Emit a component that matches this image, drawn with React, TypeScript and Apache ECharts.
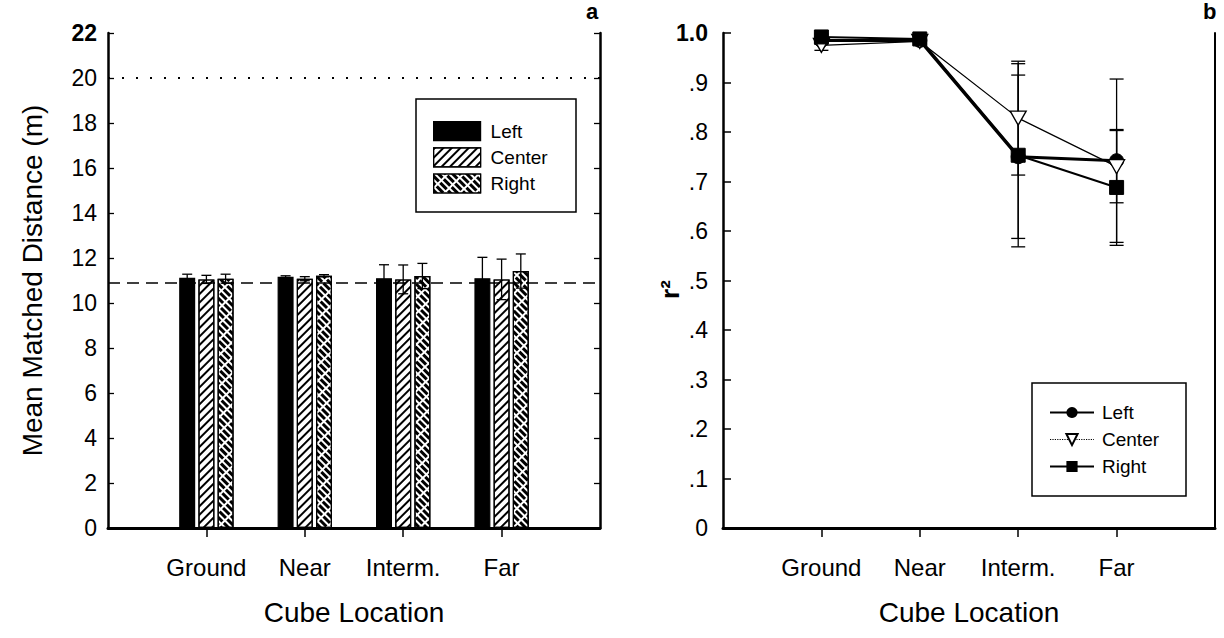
import React, { useEffect, useRef } from 'react';
import * as echarts from 'echarts';

// ---- data ----
const categories = ['Ground', 'Near', 'Interm.', 'Far'];
const seriesNames = ['Left', 'Center', 'Right'];

// panel a: mean matched distance (m)
const distLeft = [11.12, 11.17, 11.1, 11.1];
const distCenter = [11.05, 11.08, 11.05, 11.05];
const distRight = [11.08, 11.21, 11.2, 11.42];
const distErrLeft = [0.16, 0.04, 0.6, 0.93];
const distErrCenter = [0.18, 0.09, 0.64, 0.9];
const distErrRight = [0.2, 0.05, 0.56, 0.76];
const actualDistance = 10.9;
const maxDistance = 20;
const distMin = 0;
const distMax = 22;
const distStep = 2;

// panel b: r^2
const r2Left = [0.985, 0.985, 0.75, 0.742];
const r2Center = [0.975, 0.983, 0.828, 0.73];
const r2Right = [0.992, 0.988, 0.753, 0.688];
const r2ErrLeft = [0.008, 0.006, 0.165, 0.165];
const r2ErrCenter = [0.01, 0.006, 0.115, 0.073];
const r2ErrRight = [0.006, 0.006, 0.185, 0.117];
const r2Min = 0;
const r2Max = 1;
const r2Step = 0.1;

const xLabel = 'Cube Location';
const yLabelA = 'Mean Matched Distance (m)';
const yLabelB = 'r²';

const FONT = '"Liberation Sans", Arial, Helvetica, sans-serif';

const pad = (arr: number[]) => ['-', ...arr, '-'];
const xData = ['', ...categories, ''];

const BAR_W = 16;
const BAR_GAP = 0.2;
const BAR_STEP = BAR_W * (1 + BAR_GAP);

function errSeries(
  means: number[],
  errs: number[],
  xAxisIndex: number,
  yAxisIndex: number,
  offset: number,
  half: number,
  z: number
) {
  return {
    type: 'custom',
    xAxisIndex,
    yAxisIndex,
    z,
    silent: true,
    data: means.map((m, i) => [i + 1, m - errs[i], m + errs[i]]),
    renderItem: (params: any, api: any) => {
      const x = api.value(0);
      const lo = api.coord([x, api.value(1)]);
      const hi = api.coord([x, api.value(2)]);
      const cx = lo[0] + offset;
      const st = { stroke: '#000', lineWidth: 1.3 };
      return {
        type: 'group',
        children: [
          { type: 'line', shape: { x1: cx, y1: lo[1], x2: cx, y2: hi[1] }, style: st },
          { type: 'line', shape: { x1: cx - half, y1: hi[1], x2: cx + half, y2: hi[1] }, style: st },
          { type: 'line', shape: { x1: cx - half, y1: lo[1], x2: cx + half, y2: lo[1] }, style: st },
        ],
      };
    },
  };
}

export default function App() {
  const ref = useRef<HTMLDivElement>(null);

  useEffect(() => {
    if (!ref.current) return;
    const chart = echarts.init(ref.current, undefined, { renderer: 'svg' });

    const tickText = { fontFamily: FONT, fontSize: 23, color: '#000' };
    const catText = { fontFamily: FONT, fontSize: 24, color: '#000' };
    const nameText = { fontFamily: FONT, fontSize: 28, color: '#000' };

    const centerDecal = {
      symbol: 'rect',
      symbolSize: 1,
      color: '#000',
      dashArrayX: [1, 0],
      dashArrayY: [1.6, 3.4],
      rotation: -Math.PI / 4,
    };
    const rightDecal = {
      symbol: 'rect',
      symbolSize: 1,
      color: '#000',
      dashArrayX: [[9, 1.5]],
      dashArrayY: [2.4, 1.4],
      rotation: Math.PI / 4,
    };

    const gridA = { left: 108, top: 33, width: 492, height: 495 };
    const gridB = { left: 723, top: 33, width: 492, height: 495 };

    const bottomAxis = (gridIndex: number) => ({
      type: 'category',
      gridIndex,
      data: xData,
      boundaryGap: false,
      axisLine: { lineStyle: { color: '#000', width: 2 } },
      axisTick: {
        show: true,
        inside: false,
        length: 9,
        interval: (i: number) => i > 0 && i < xData.length - 1,
        lineStyle: { color: '#000', width: 1.5 },
      },
      axisLabel: { ...catText, interval: 0, margin: 27 },
      splitLine: { show: false },
      name: xLabel,
      nameLocation: 'middle',
      nameGap: 70,
      nameTextStyle: nameText,
    });
    const topAxis = (gridIndex: number) => ({
      type: 'category',
      gridIndex,
      position: 'top',
      data: xData,
      boundaryGap: false,
      axisLine: { lineStyle: { color: '#000', width: 3 } },
      axisTick: { show: false },
      axisLabel: { show: false },
      splitLine: { show: false },
    });

    const option: any = {
      animation: false,
      backgroundColor: '#fff',
      textStyle: { fontFamily: FONT },
      grid: [gridA, gridB],
      xAxis: [bottomAxis(0), topAxis(0), bottomAxis(1), topAxis(1)],
      yAxis: [
        {
          type: 'value',
          gridIndex: 0,
          min: distMin,
          max: distMax,
          interval: distStep,
          axisLine: { show: true, lineStyle: { color: '#000', width: 2.5 } },
          axisTick: { show: true, inside: true, length: 6, lineStyle: { color: '#000', width: 1.3 } },
          axisLabel: {
            ...tickText,
            margin: 11,
            formatter: (v: number) => (v === distMax ? '{b|' + v + '}' : String(v)),
            rich: { b: { ...tickText, fontWeight: 'bold' } },
          },
          splitLine: { show: false },
          name: yLabelA,
          nameLocation: 'middle',
          nameGap: 62,
          nameTextStyle: nameText,
        },
        {
          type: 'value',
          gridIndex: 0,
          position: 'right',
          min: distMin,
          max: distMax,
          interval: distStep,
          axisLine: { show: true, lineStyle: { color: '#000', width: 2.5 } },
          axisTick: { show: true, inside: true, length: 6, lineStyle: { color: '#000', width: 1.3 } },
          axisLabel: { show: false },
          splitLine: { show: false },
        },
        {
          type: 'value',
          gridIndex: 1,
          min: r2Min,
          max: r2Max,
          interval: r2Step,
          axisLine: { show: true, lineStyle: { color: '#000', width: 2.5 } },
          axisTick: { show: true, inside: true, length: 8, lineStyle: { color: '#000', width: 1.5 } },
          axisLabel: {
            ...tickText,
            margin: 15,
            formatter: (v: number) => {
              if (v === 0) return '0';
              if (Math.abs(v - 1) < 1e-9) return '{b|1.0}';
              return '.' + Math.round(v * 10);
            },
            rich: { b: { ...tickText, fontWeight: 'bold' } },
          },
          splitLine: { show: false },
          name: yLabelB,
          nameLocation: 'middle',
          nameGap: 40,
          nameMoveOverlap: false,
          nameTextStyle: { ...nameText, fontSize: 26, fontWeight: 'bold', padding: [0, 18, 0, 0] },
        },
        {
          type: 'value',
          gridIndex: 1,
          position: 'right',
          min: r2Min,
          max: r2Max,
          interval: r2Step,
          axisLine: { show: true, lineStyle: { color: '#000', width: 2 } },
          axisTick: { show: false },
          axisLabel: { show: false },
          splitLine: { show: false },
        },
      ],
      legend: [
        {
          data: seriesNames,
          orient: 'vertical',
          left: 433,
          top: 121,
          padding: 0,
          itemWidth: 47,
          itemHeight: 19,
          itemGap: 6,
          icon: 'rect',
          selectedMode: false,
          itemStyle: { borderColor: '#000', borderWidth: 1.2 },
          textStyle: { fontFamily: FONT, fontSize: 19, color: '#000', padding: [0, 0, 0, 5] },
        },
        {
          data: [
            { name: 'b-Left' },
            { name: 'b-Center', lineStyle: { type: 'dotted', width: 1.2 } },
            { name: 'b-Right' },
          ],
          formatter: (n: string) => n.slice(2),
          orient: 'vertical',
          left: 1049,
          top: 403,
          padding: 0,
          itemWidth: 44,
          itemHeight: 14,
          itemGap: 8,
          selectedMode: false,
          textStyle: { fontFamily: FONT, fontSize: 19, color: '#000', padding: [0, 0, 0, 3] },
        },
      ],
      graphic: [
        { type: 'rect', shape: { x: 416, y: 99, width: 160, height: 113 }, style: { fill: 'none', stroke: '#000', lineWidth: 1.5 }, silent: true },
        { type: 'rect', shape: { x: 1032, y: 383, width: 154, height: 113 }, style: { fill: 'none', stroke: '#000', lineWidth: 1.5 }, silent: true },
        { type: 'text', x: 586, y: 0, style: { text: 'a', font: 'bold 22px ' + FONT, fill: '#000' }, silent: true },
        { type: 'text', x: 1203, y: 0, style: { text: 'b', font: 'bold 22px ' + FONT, fill: '#000' }, silent: true },
      ],
      series: [
        {
          name: 'Left',
          type: 'bar',
          xAxisIndex: 0,
          yAxisIndex: 0,
          barWidth: BAR_W,
          barGap: BAR_GAP * 100 + '%',
          data: pad(distLeft),
          itemStyle: { color: '#000', borderColor: '#000', borderWidth: 1.2 },
          z: 2,
          markLine: {
            silent: true,
            symbol: ['none', 'none'],
            label: { show: false },
            data: [
              { yAxis: actualDistance, lineStyle: { type: [12, 7], color: '#000', width: 1.5 } },
              { yAxis: maxDistance, lineStyle: { type: [2, 12], color: '#000', width: 2 } },
            ],
          },
        },
        {
          name: 'Center',
          type: 'bar',
          xAxisIndex: 0,
          yAxisIndex: 0,
          barWidth: BAR_W,
          barGap: BAR_GAP * 100 + '%',
          data: pad(distCenter),
          itemStyle: { color: '#fff', borderColor: '#000', borderWidth: 1.2, decal: centerDecal },
          z: 2,
        },
        {
          name: 'Right',
          type: 'bar',
          xAxisIndex: 0,
          yAxisIndex: 0,
          barWidth: BAR_W,
          barGap: BAR_GAP * 100 + '%',
          data: pad(distRight),
          itemStyle: { color: '#fff', borderColor: '#000', borderWidth: 1.2, decal: rightDecal },
          z: 2,
        },
        errSeries(distLeft, distErrLeft, 0, 0, -BAR_STEP, 5, 3),
        errSeries(distCenter, distErrCenter, 0, 0, 0, 5, 3),
        errSeries(distRight, distErrRight, 0, 0, BAR_STEP, 5, 3),
        errSeries(r2Left, r2ErrLeft, 2, 2, 0, 7, 3),
        errSeries(r2Center, r2ErrCenter, 2, 2, 0, 7, 3),
        errSeries(r2Right, r2ErrRight, 2, 2, 0, 7, 3),
        {
          name: 'b-Left',
          type: 'line',
          xAxisIndex: 2,
          yAxisIndex: 2,
          data: pad(r2Left),
          symbol: 'circle',
          symbolSize: 14,
          lineStyle: { color: '#000', width: 3 },
          itemStyle: { color: '#000', borderColor: '#000' },
          z: 4,
        },
        {
          name: 'b-Center',
          type: 'line',
          xAxisIndex: 2,
          yAxisIndex: 2,
          data: pad(r2Center),
          symbol: 'triangle',
          symbolRotate: 180,
          symbolSize: [16, 14],
          lineStyle: { color: '#000', width: 1.2 },
          itemStyle: { color: '#fff', borderColor: '#000', borderWidth: 1.3 },
          z: 5,
        },
        {
          name: 'b-Right',
          type: 'line',
          xAxisIndex: 2,
          yAxisIndex: 2,
          data: pad(r2Right),
          symbol: 'rect',
          symbolSize: 14,
          lineStyle: { color: '#000', width: 2 },
          itemStyle: { color: '#000', borderColor: '#000' },
          z: 6,
        },
      ],
    };

    chart.setOption(option);
    return () => chart.dispose();
  }, []);

  return (
    <div
      ref={ref}
      style={{ position: 'absolute', left: 0, top: 0, width: 1224, height: 638, background: '#fff' }}
    />
  );
}
